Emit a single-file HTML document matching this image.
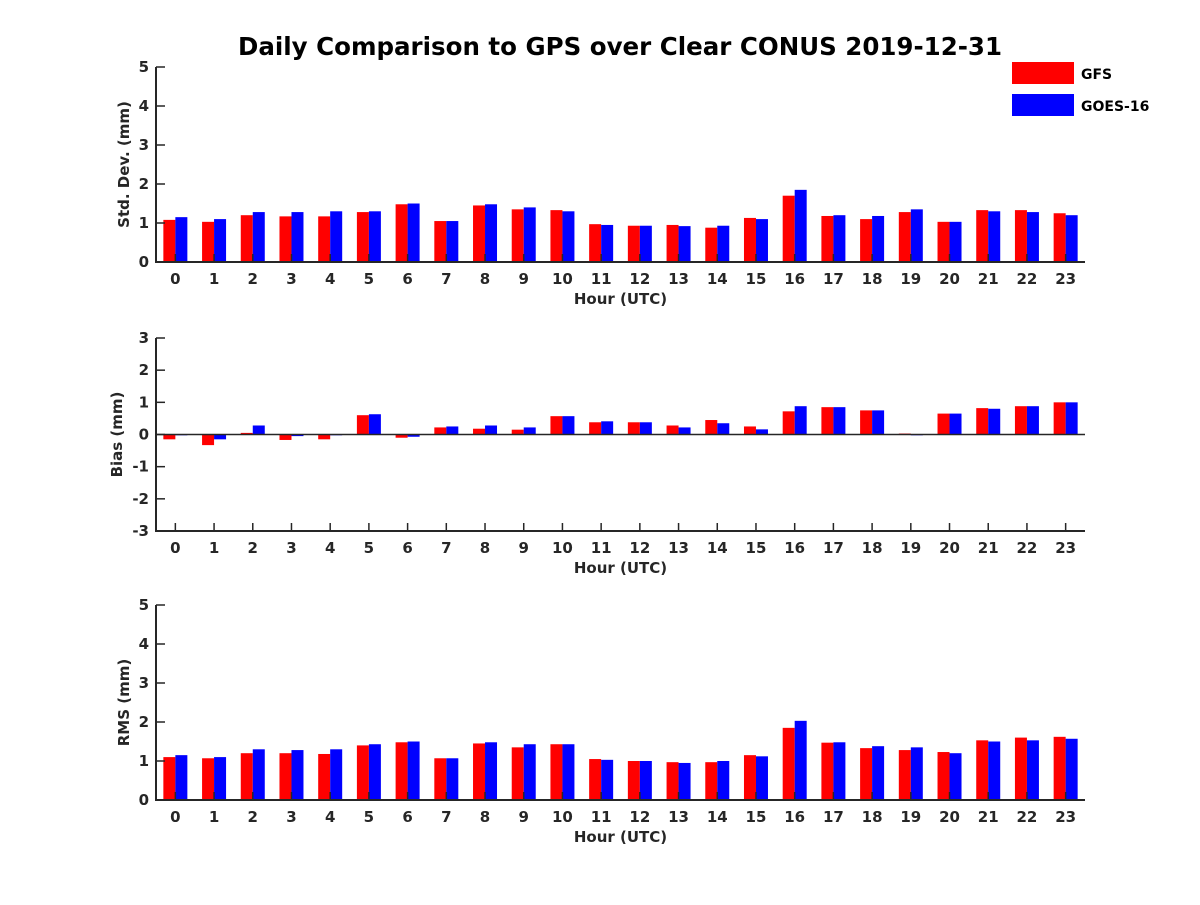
<!DOCTYPE html>
<html><head><meta charset="utf-8"><style>
body{margin:0;background:#fff}
svg text{font-family:"DejaVu Sans","Liberation Sans",sans-serif;font-weight:bold;fill:#262626}
</style></head><body>
<svg id="chart" width="1200" height="900" xmlns="http://www.w3.org/2000/svg">
<text x="620" y="55" text-anchor="middle" font-size="24.5" style="fill:#000">Daily Comparison to GPS over Clear CONUS 2019-12-31</text>
<g>
<rect x="1012" y="62" width="62" height="22" fill="#ff0000"/>
<text x="1081" y="79" font-size="14" style="fill:#000">GFS</text>
<rect x="1012" y="94" width="62" height="22" fill="#0000ff"/>
<text x="1081" y="111" font-size="14" style="fill:#000">GOES-16</text>
</g>
</svg>
<script>
const hours=[0,1,2,3,4,5,6,7,8,9,10,11,12,13,14,15,16,17,18,19,20,21,22,23];
const stdGFS=[1.08,1.03,1.2,1.17,1.17,1.28,1.48,1.05,1.45,1.35,1.33,0.97,0.93,0.95,0.88,1.13,1.7,1.18,1.1,1.28,1.03,1.33,1.33,1.25];
const stdGOES=[1.15,1.1,1.28,1.28,1.3,1.3,1.5,1.05,1.48,1.4,1.3,0.95,0.93,0.92,0.93,1.1,1.85,1.2,1.18,1.35,1.03,1.3,1.28,1.2];
const biasGFS=[-0.15,-0.33,0.05,-0.17,-0.15,0.6,-0.1,0.22,0.18,0.15,0.57,0.38,0.38,0.28,0.45,0.25,0.72,0.85,0.75,0.03,0.65,0.82,0.88,1.0];
const biasGOES=[-0.02,-0.15,0.28,-0.05,0,0.63,-0.07,0.25,0.28,0.22,0.57,0.41,0.38,0.22,0.35,0.16,0.88,0.85,0.75,0,0.65,0.8,0.88,1.0];
const rmsGFS=[1.1,1.07,1.2,1.2,1.18,1.4,1.48,1.07,1.45,1.35,1.43,1.05,1.0,0.97,0.97,1.15,1.85,1.47,1.33,1.28,1.23,1.53,1.6,1.62];
const rmsGOES=[1.15,1.1,1.3,1.28,1.3,1.43,1.5,1.07,1.48,1.43,1.43,1.03,1.0,0.95,1.0,1.12,2.03,1.48,1.38,1.35,1.2,1.5,1.53,1.57];
const stdTicks=[0,1,2,3,4,5];
const biasTicks=[-3,-2,-1,0,1,2,3];
const rmsTicks=[0,1,2,3,4,5];

const svg=document.getElementById('chart');
const NS='http://www.w3.org/2000/svg';
function mk(tag,attrs){const e=document.createElementNS(NS,tag);for(const k in attrs)e.setAttribute(k,attrs[k]);svg.appendChild(e);return e;}
const X0=156,X1=1085;
function xs(h){return X0+(h+0.5)*(X1-X0)/24;}
function panel(name,yTop,yBot,ymin,ymax,ticks,ylabel,labelX,g1,g2){
  const ys=v=>yBot-(v-ymin)/(ymax-ymin)*(yBot-yTop);
  const y0=ys(Math.max(0,ymin));
  hours.forEach((h,i)=>{
    [[g1,'#ff0000',-12,'gfs'],[g2,'#0000ff',0,'goes16']].forEach(([arr,c,off,s])=>{
      const v=arr[i];const a=ys(v);
      const r=mk('rect',{x:xs(h)+off,y:Math.min(a,y0),width:12,height:Math.max(Math.abs(a-y0),0.8),fill:c});
      
      
    });
    const t=mk('line',{x1:xs(h),x2:xs(h),y1:yBot,y2:yBot-8,stroke:'#262626','stroke-width':1.5});
    
    
    const tl=mk('text',{x:xs(h),y:yBot+22,'text-anchor':'middle','font-size':15});
    tl.textContent=h;
    
    
  });
  ticks.forEach(v=>{
    const t=mk('line',{x1:X0,x2:X0+9,y1:ys(v),y2:ys(v),stroke:'#262626','stroke-width':1.5});
    
    
    const tl=mk('text',{x:X0-7,y:ys(v)+5,'text-anchor':'end','font-size':15});
    tl.textContent=v;
    
    
  });
  if(ymin<0){
    const z=mk('line',{x1:X0,x2:X1,y1:ys(0),y2:ys(0),stroke:'#262626','stroke-width':1.5});
    
    
  }
  const ax=mk('path',{d:`M${X0},${yTop}V${yBot}H${X1}`,fill:'none',stroke:'#262626','stroke-width':2});
  
  
  const xl=mk('text',{x:(X0+X1)/2,y:yBot+42,'text-anchor':'middle','font-size':15});
  xl.textContent='Hour (UTC)';
  
  
  const cy=(yTop+yBot)/2;
  const yl=mk('text',{x:labelX,y:cy,'text-anchor':'middle','font-size':15,transform:`rotate(-90 ${labelX} ${cy})`});
  yl.textContent=ylabel;
  
  
}
panel('std-panel',67,262,0,5,stdTicks,'Std. Dev. (mm)',129,stdGFS,stdGOES);
panel('bias-panel',338,531,-3,3,biasTicks,'Bias (mm)',122,biasGFS,biasGOES);
panel('rms-panel',605,800,0,5,rmsTicks,'RMS (mm)',129,rmsGFS,rmsGOES);
</script>
</body></html>
